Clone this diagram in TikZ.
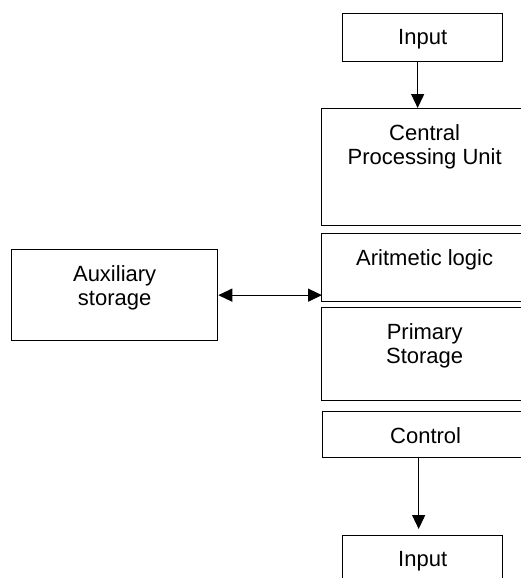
\documentclass[tikz,border=0pt]{standalone}
\usepackage{fontspec}
\setmainfont{Liberation Sans}
\usetikzlibrary{arrows.meta}
\usetikzlibrary{positioning}

\tikzset{
  unit/.style={draw,rectangle,line width=1.3pt,anchor=north west,inner sep=0pt},
  txt/.style={anchor=north,inner sep=0pt,align=center,yshift=-16pt,font=\fontsize{22}{24.5}\selectfont},
  flow/.style={draw,line width=1.3pt,>={Triangle[length=14pt,width=13pt]}},
}

\begin{document}
\begin{tikzpicture}[x=1pt,y=-1pt]
  \useasboundingbox (0,0) rectangle (521,578);

  \node [unit,minimum width=160pt,minimum height=48pt,label={[txt]north:Input}] (in_top) at (342,13) {};
  \node [unit,minimum width=206pt,minimum height=117pt,label={[txt]north:Central\\Processing Unit}] (cpu) at (321,108) {};
  \node [unit,minimum width=206pt,minimum height=68pt,label={[txt]north:Aritmetic logic}] (alu) at (321,233) {};
  \node [unit,minimum width=206pt,minimum height=93pt,label={[txt]north:Primary\\Storage}] (prim) at (321,307) {};
  \node [unit,minimum width=206pt,minimum height=46pt,label={[txt]north:Control}] (ctrl) at (322,411) {};
  \node [unit,minimum width=160pt,minimum height=60pt,label={[txt]north:Input}] (in_bot) at (342,535) {};

  \node [unit,minimum width=206pt,minimum height=91pt,label={[txt]north:Auxiliary\\storage}] (aux) at (11,249) {};

  \draw [flow,->] ([xshift=-5pt]in_top.south) -- ([xshift=-5pt]in_top.south |- cpu.north);
  \draw [flow,->,shorten >=6pt] ([xshift=-4pt]in_bot.north |- ctrl.south) -- ([xshift=-4pt]in_bot.north);

  \draw [flow,<->] (aux.east) -- ([xshift=1pt]aux.east -| alu.west);

\end{tikzpicture}
\end{document}
